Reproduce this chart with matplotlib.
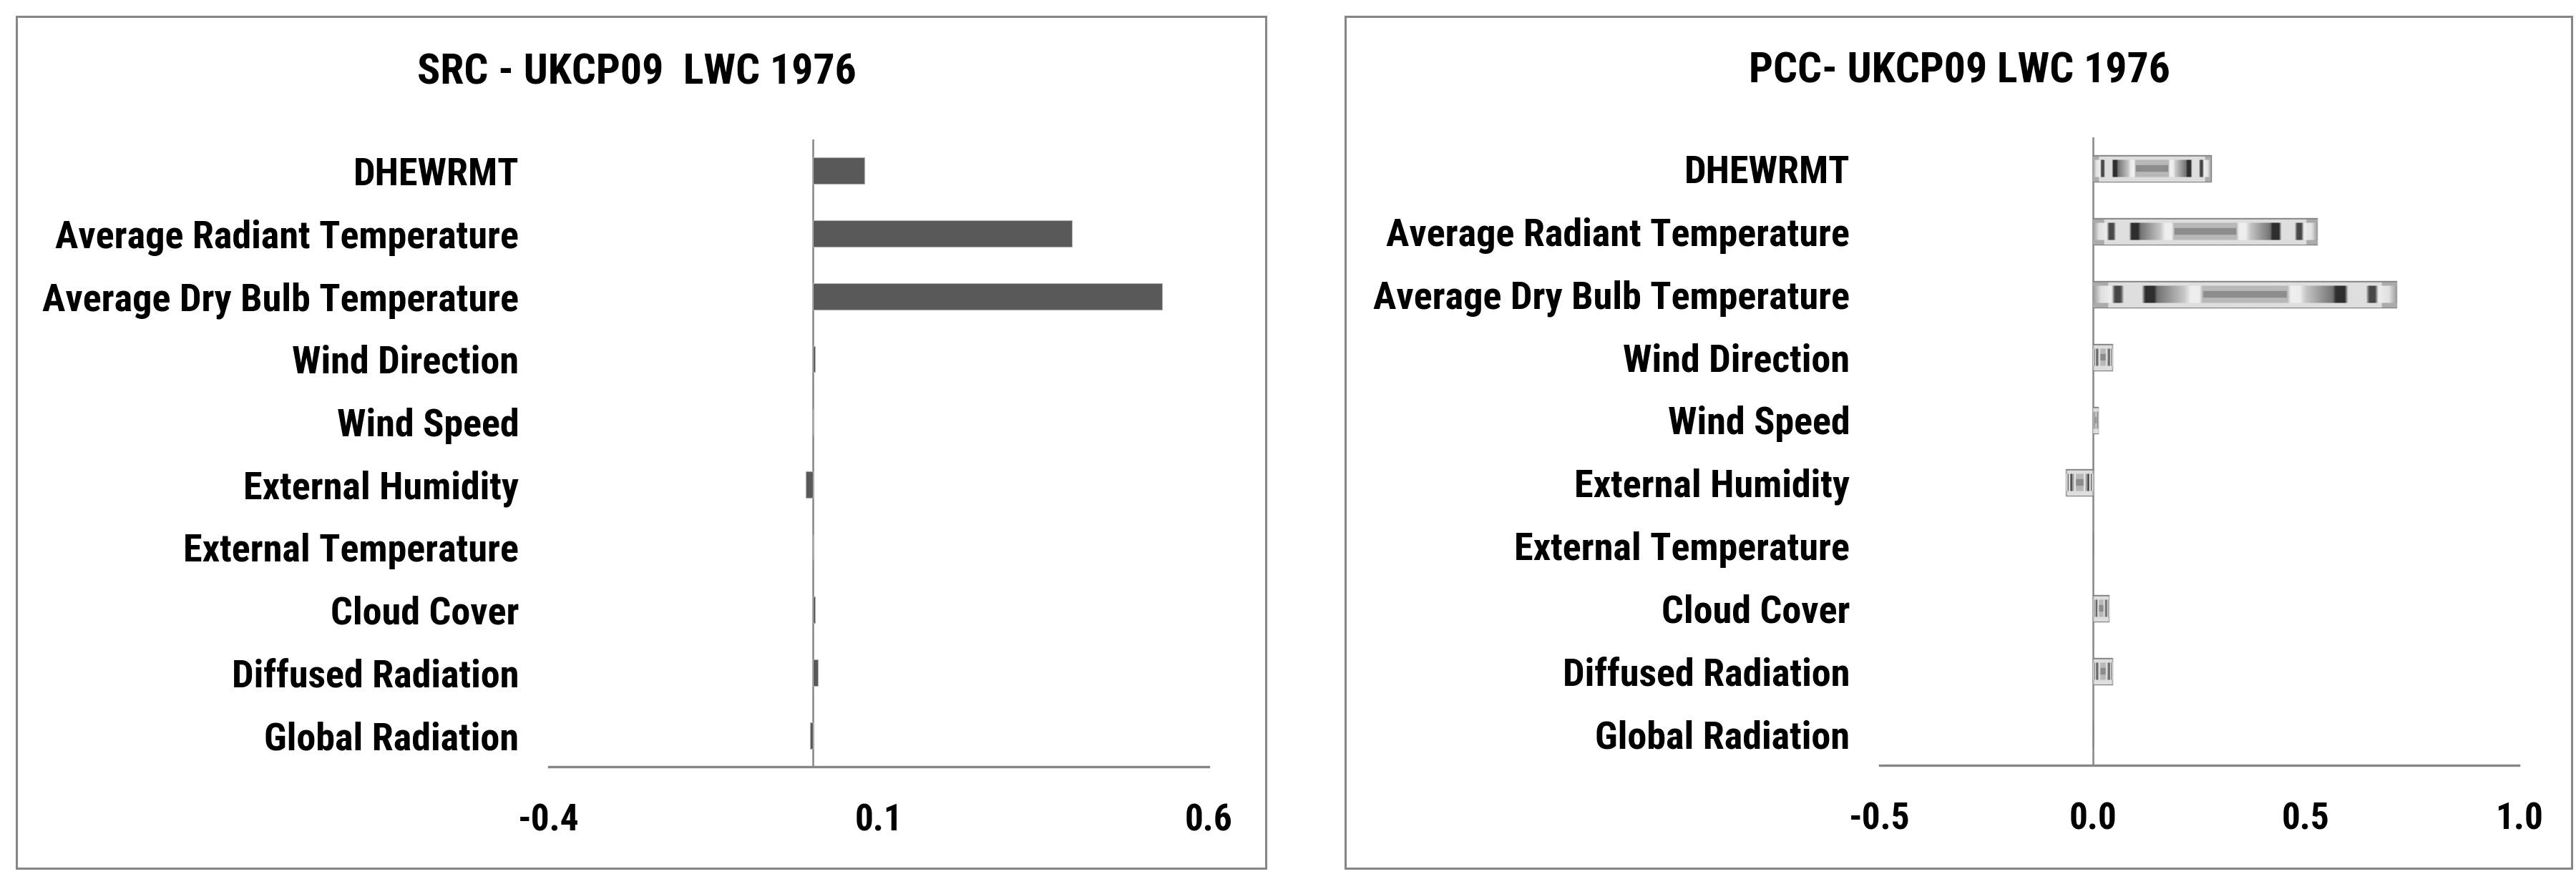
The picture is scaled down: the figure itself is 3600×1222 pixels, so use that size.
"""Recreate SRC / PCC sensitivity bar charts (UKCP09 LWC 1976)."""

import matplotlib

matplotlib.use("Agg")
import matplotlib.pyplot as plt
import numpy as np
from matplotlib import font_manager
from matplotlib.patches import Rectangle

categories = [
    "DHEWRMT",
    "Average Radiant Temperature",
    "Average Dry Bulb Temperature",
    "Wind Direction",
    "Wind Speed",
    "External Humidity",
    "External Temperature",
    "Cloud Cover",
    "Diffused Radiation",
    "Global Radiation",
]
src_values = [0.078, 0.393, 0.529, 0.004, 0.0, -0.011, 0.0, 0.004, 0.008, -0.004]
pcc_values = [0.277, 0.526, 0.713, 0.046, 0.013, -0.064, 0.0, 0.037, 0.046, 0.0]

src_title = "SRC - UKCP09  LWC 1976"
pcc_title = "PCC- UKCP09 LWC 1976"
src_ticks = [-0.4, 0.1, 0.6]
pcc_ticks = [-0.5, 0.0, 0.5, 1.0]

GREY = "#868686"
W, H = 3600, 1222


def pick_family(candidates):
    names = {f.name for f in font_manager.fontManager.ttflist}
    for name in candidates:
        if name in names:
            return name
    return "DejaVu Sans"


FAMILY = pick_family(["Liberation Sans Narrow", "Roboto Condensed", "Open Sans", "Liberation Sans"])
plt.rcParams["font.family"] = [FAMILY, "DejaVu Sans"]
plt.rcParams["font.weight"] = "bold"


def texture(width_px=240, height_px=40):
    """Grey 'picture fill' roughly like the Excel texture in the PCC bars."""
    u = np.linspace(0, 1, width_px)
    v = np.linspace(0, 1, height_px)
    d = np.abs(u - 0.5) * 2
    prof = np.interp(
        d,
        [0.0, 0.28, 0.30, 0.36, 0.40, 0.58, 0.60, 0.66, 0.68, 0.80, 0.82, 0.86, 0.88, 0.95, 1.0],
        [0.72, 0.72, 0.93, 0.93, 0.78, 0.45, 0.18, 0.18, 0.87, 0.87, 0.28, 0.28, 0.93, 0.88, 0.62],
    )
    img = np.tile(prof, (height_px, 1))
    vv = np.abs(v - 0.5)[:, None]
    img = np.where(vv > 0.34, 0.87 - 0.2 * (d[None, :] > 0.9), img)
    centre = (vv < 0.12) & (d[None, :] < 0.28)
    img = np.where(centre, 0.55, img)
    img[0, :] = 0.5
    img[1, :] = 0.55
    return img


def style_axes(ax, ticks, xlim):
    ax.set_xlim(*xlim)
    ax.set_ylim(len(categories) - 0.5, -0.5)
    ax.set_yticks(range(len(categories)))
    ax.set_yticklabels(categories, fontsize=39, fontweight="bold")
    ax.set_xticks(ticks)
    ax.set_xticklabels([f"{t:.1f}" for t in ticks], fontsize=37, fontweight="bold")
    ax.tick_params(axis="y", length=0, pad=30)
    ax.tick_params(axis="x", length=0, pad=36)
    for side in ("top", "right", "left"):
        ax.spines[side].set_visible(False)
    ax.spines["bottom"].set_color(GREY)
    ax.spines["bottom"].set_linewidth(2.4)
    ax.axvline(0, color=GREY, lw=1.8, zorder=1)


fig = plt.figure(figsize=(W / 100, H / 100), dpi=100)

for x0, x1 in [(23, 1769), (1880, 3594)]:
    fig.patches.append(
        Rectangle(
            (x0 / W, 1 - 1214 / H), (x1 - x0) / W, (1214 - 23) / H,
            transform=fig.transFigure, fill=False, edgecolor=GREY, lw=2.2,
        )
    )

# left: SRC
ax1 = fig.add_axes([767 / W, 1 - 1072 / H, (1689 - 767) / W, (1072 - 195) / H])
ax1.barh(range(len(categories)), src_values, height=0.42, color="#595959",
         edgecolor="#b0b0b0", linewidth=0.8, zorder=2)
style_axes(ax1, src_ticks, (-0.4, 0.6))
fig.text(890 / W, 1 - 102 / H, src_title, ha="center", va="center",
         fontsize=43, fontweight="bold")

# right: PCC with texture fill
ax2 = fig.add_axes([2627 / W, 1 - 1070 / H, (3520 - 2627) / W, (1070 - 192) / H])
bars = ax2.barh(range(len(categories)), pcc_values, height=0.42, color="#d0d0d0",
                edgecolor="#7f7f7f", linewidth=1.0, zorder=2)
tex = texture()
for i, (bar, val) in enumerate(zip(bars, pcc_values)):
    if val == 0:
        continue
    im = ax2.imshow(tex, cmap="gray", vmin=0, vmax=1, aspect="auto",
                    interpolation="bilinear",
                    extent=(min(0, val), max(0, val), i + 0.21, i - 0.21), zorder=3)
    im.set_clip_path(bar)
style_axes(ax2, pcc_ticks, (-0.5, 1.0))
fig.text(2738 / W, 1 - 100 / H, pcc_title, ha="center", va="center",
         fontsize=43, fontweight="bold")

fig.savefig("out.png", dpi=100, facecolor="white")
